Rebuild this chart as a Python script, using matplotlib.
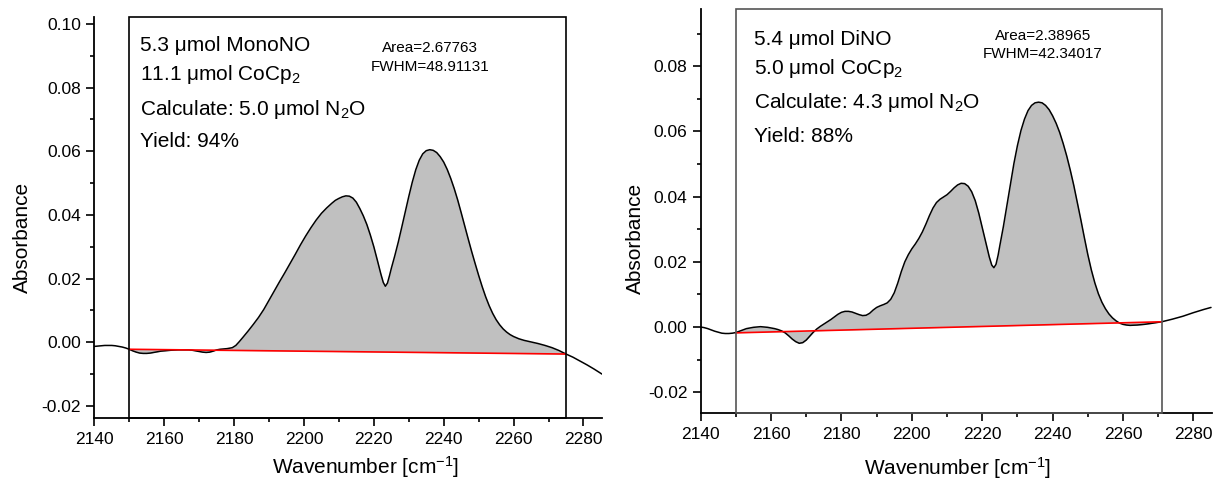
import numpy as np
import matplotlib
matplotlib.use("Agg")
import matplotlib.pyplot as plt
from matplotlib.patches import Rectangle
from matplotlib.ticker import MultipleLocator, FormatStrFormatter
import matplotlib.transforms as mtransforms

plt.rcParams["font.family"] = ["Liberation Sans", "DejaVu Sans"]
plt.rcParams["mathtext.fontset"] = "custom"
plt.rcParams["mathtext.rm"] = "Liberation Sans"
plt.rcParams["mathtext.it"] = "Liberation Sans:italic"
plt.rcParams["axes.unicode_minus"] = False

# ---- MonoNO + CoCp2 spectrum ----
wn_mono = [2140, 2141, 2142, 2143, 2144, 2145, 2146, 2147, 2148, 2149,
           2150, 2151, 2152, 2153, 2154, 2155, 2156, 2157, 2158, 2159,
           2160, 2162, 2164, 2166, 2167, 2168, 2169, 2170, 2171, 2172,
           2173, 2174, 2175, 2176, 2177, 2178, 2179, 2179.5, 2180.5, 2181.5,
           2182.5, 2184, 2185.5, 2187, 2188.5, 2190, 2191.5, 2193, 2194.5, 2196,
           2197.5, 2199, 2200.5, 2202, 2203.5, 2205, 2206.5, 2208, 2209, 2210,
           2211, 2212, 2213, 2214, 2215, 2216, 2217, 2218, 2219, 2220,
           2221, 2222, 2222.7, 2223.3, 2223.9, 2224.5, 2225, 2226, 2227, 2228,
           2229, 2230, 2231, 2232, 2233, 2234, 2235, 2236, 2237, 2238,
           2239, 2240, 2241, 2242, 2243, 2244, 2245, 2246, 2247, 2248,
           2249, 2250, 2251, 2252, 2253, 2254, 2255, 2256, 2257, 2258,
           2259, 2260, 2261.5, 2263, 2265, 2267, 2269, 2271, 2273, 2275,
           2277, 2279, 2281, 2283, 2285.3]
abs_mono = [-0.0013, -0.0012, -0.0011, -0.0010, -0.0010, -0.0010, -0.0011, -0.0013, -0.0015, -0.0018,
            -0.0022, -0.0027, -0.0031, -0.0034, -0.0035, -0.0035, -0.0034, -0.0032, -0.0030, -0.0028,
            -0.0027, -0.0025, -0.0024, -0.0024, -0.0024, -0.0025, -0.0027, -0.0029, -0.0031, -0.0032,
            -0.0031, -0.0028, -0.0024, -0.0022, -0.0021, -0.0020, -0.0018, -0.0017, -0.0010, 0.0002,
            0.0015, 0.0035, 0.0056, 0.0078, 0.0103, 0.0132, 0.0161, 0.0190, 0.0218, 0.0247,
            0.0276, 0.0306, 0.0334, 0.0360, 0.0384, 0.0405, 0.0422, 0.0437, 0.0446, 0.0452,
            0.0457, 0.0460, 0.0459, 0.0453, 0.0440, 0.0420, 0.0397, 0.0370, 0.0337, 0.0300,
            0.0258, 0.0215, 0.0188, 0.0176, 0.0186, 0.0210, 0.0232, 0.0272, 0.0315, 0.0362,
            0.0410, 0.0458, 0.0503, 0.0542, 0.0572, 0.0592, 0.0602, 0.0605, 0.0603, 0.0596,
            0.0583, 0.0566, 0.0543, 0.0515, 0.0483, 0.0447, 0.0407, 0.0366, 0.0325, 0.0285,
            0.0247, 0.0210, 0.0175, 0.0143, 0.0115, 0.0091, 0.0071, 0.0055, 0.0042, 0.0032,
            0.0024, 0.0018, 0.0011, 0.0006, 0.0001, -0.0004, -0.0010, -0.0017, -0.0026, -0.0037,
            -0.0047, -0.0059, -0.0071, -0.0084, -0.0100]
limits_mono = [2150, 2275]
base_mono = [-0.0022, -0.0037]
text_mono = ["5.3 μmol MonoNO", "11.1 μmol CoCp$_2$",
             "Calculate: 5.0 μmol N$_2$O", "Yield: 94%"]
fit_mono = ["Area=2.67763", "FWHM=48.91131"]

# ---- DiNO + CoCp2 spectrum ----
wn_dino = [2140, 2141, 2142, 2143, 2144, 2145, 2146, 2147, 2148, 2149,
           2150, 2151, 2152, 2153, 2154, 2155, 2156, 2157, 2158, 2159,
           2160, 2161, 2162, 2163, 2164, 2165, 2166, 2167, 2168, 2169,
           2170, 2171, 2172, 2173, 2174, 2175, 2176, 2177, 2178, 2179,
           2180, 2181, 2182, 2183, 2184, 2185, 2186, 2187, 2188, 2189,
           2190, 2191, 2192, 2193, 2194, 2195, 2196, 2197, 2198, 2199,
           2200, 2201, 2202, 2203, 2204, 2205, 2206, 2207, 2208, 2209,
           2210, 2211, 2212, 2213, 2214, 2215, 2216, 2217, 2218, 2219,
           2220, 2221, 2222, 2222.7, 2223.3, 2223.9, 2224.5, 2225, 2226, 2227,
           2228, 2229, 2230, 2231, 2232, 2233, 2234, 2235, 2236, 2237,
           2238, 2239, 2240, 2241, 2242, 2243, 2244, 2245, 2246, 2247,
           2248, 2249, 2250, 2251, 2252, 2253, 2254, 2255, 2256, 2257,
           2258, 2259, 2260, 2261, 2262, 2264, 2266, 2268, 2271, 2274,
           2277, 2280, 2283, 2285]
abs_dino = [0.0000, -0.0002, -0.0005, -0.0009, -0.0013, -0.0016, -0.0019, -0.0020, -0.0020, -0.0019,
            -0.0017, -0.0013, -0.0009, -0.0005, -0.0003, -0.0001, 0.0000, 0.0001, 0.0000, -0.0001,
            -0.0003, -0.0005, -0.0008, -0.0012, -0.0018, -0.0027, -0.0037, -0.0045, -0.0050, -0.0048,
            -0.0040, -0.0028, -0.0016, -0.0006, 0.0002, 0.0009, 0.0016, 0.0023, 0.0031, 0.0039,
            0.0045, 0.0048, 0.0048, 0.0046, 0.0042, 0.0038, 0.0035, 0.0036, 0.0042, 0.0052,
            0.0060, 0.0065, 0.0069, 0.0074, 0.0085, 0.0105, 0.0135, 0.0170, 0.0200, 0.0222,
            0.0240, 0.0255, 0.0272, 0.0292, 0.0316, 0.0342, 0.0365, 0.0382, 0.0392, 0.0399,
            0.0406, 0.0416, 0.0427, 0.0436, 0.0441, 0.0440, 0.0432, 0.0415, 0.0388, 0.0350,
            0.0305, 0.0260, 0.0215, 0.0190, 0.0182, 0.0192, 0.0220, 0.0250, 0.0308, 0.0372,
            0.0438, 0.0502, 0.0557, 0.0603, 0.0638, 0.0664, 0.0680, 0.0688, 0.0690, 0.0688,
            0.0680, 0.0667, 0.0648, 0.0625, 0.0597, 0.0563, 0.0525, 0.0482, 0.0435, 0.0383,
            0.0330, 0.0275, 0.0222, 0.0175, 0.0135, 0.0102, 0.0076, 0.0056, 0.0040, 0.0028,
            0.0019, 0.0012, 0.0008, 0.0006, 0.0005, 0.0006, 0.0008, 0.0011, 0.0016, 0.0024,
            0.0033, 0.0044, 0.0054, 0.0060]
limits_dino = [2150, 2271]
base_dino = [-0.0018, 0.0016]
text_dino = ["5.4 μmol DiNO", "5.0 μmol CoCp$_2$",
             "Calculate: 4.3 μmol N$_2$O", "Yield: 88%"]
fit_dino = ["Area=2.38965", "FWHM=42.34017"]

fig = plt.figure(figsize=(12.15, 4.82), dpi=100)
ax1 = fig.add_axes([0.0776, 0.1334, 0.4176, 0.8307])
ax2 = fig.add_axes([0.5767, 0.1438, 0.4206, 0.8369])


def draw_panel(ax, wn, ab, limits, base, ylim, yticks, box_color,
               lines, line_y, text_x, fit, fit_xy, ylab_xy, xlab_xy):
    wn = np.asarray(wn, float)
    ab = np.asarray(ab, float)
    m = (wn >= limits[0]) & (wn <= limits[1])
    bl = np.interp(wn[m], limits, base)
    ax.fill_between(wn[m], ab[m], bl, color="#c0c0c0", lw=0, zorder=1)
    ax.plot(wn, ab, color="black", lw=1.1, zorder=3,
            solid_joinstyle="round", solid_capstyle="round")
    ax.plot(limits, base, color="#ff0000", lw=1.2, zorder=4)

    ax.set_xlim(2140, 2285.2)
    ax.set_ylim(*ylim)
    trans = mtransforms.blended_transform_factory(ax.transData, ax.transAxes)
    ax.add_patch(Rectangle((limits[0], 0), limits[1] - limits[0], 1,
                           transform=trans, fill=False, ec=box_color, lw=1.2,
                           clip_on=False, zorder=5))

    for s in ("top", "right"):
        ax.spines[s].set_visible(False)
    for s in ("left", "bottom"):
        ax.spines[s].set_linewidth(1.3)
    ax.xaxis.set_major_locator(MultipleLocator(20))
    ax.xaxis.set_minor_locator(MultipleLocator(10))
    ax.set_yticks(yticks)
    ax.yaxis.set_minor_locator(MultipleLocator(0.01))
    ax.yaxis.set_major_formatter(FormatStrFormatter("%.2f"))
    ax.tick_params(which="major", direction="out", length=5.5, width=1.2,
                   labelsize=12.5, pad=4)
    ax.tick_params(which="minor", direction="out", length=3.2, width=1.2)
    ax.tick_params(axis="x", which="major", pad=5)

    for s, y in zip(lines, line_y):
        ax.text(text_x, y, s, transform=ax.transAxes, fontsize=15,
                ha="left", va="baseline")
    ax.text(fit_xy[0], fit_xy[1], fit[0], transform=ax.transAxes, fontsize=11,
            ha="center", va="center")
    ax.text(fit_xy[0], fit_xy[2], fit[1], transform=ax.transAxes, fontsize=11,
            ha="center", va="center")

    ax.set_ylabel("Absorbance", fontsize=15, ha="center", va="center",
                  rotation_mode="anchor")
    ax.yaxis.set_label_coords(*ylab_xy)
    ax.set_xlabel("Wavenumber [cm$^{-1}$]", fontsize=15, ha="center", va="center")
    ax.xaxis.set_label_coords(*xlab_xy)


draw_panel(ax1, wn_mono, abs_mono, limits_mono, base_mono, (-0.0237, 0.1021),
           [-0.02, 0.0, 0.02, 0.04, 0.06, 0.08, 0.10], "black",
           text_mono, [0.9166, 0.843, 0.756, 0.677], 0.0893,
           fit_mono, (0.6616, 0.9223, 0.8749), (-0.1425, 0.45), (0.5355, -0.123))

draw_panel(ax2, wn_dino, abs_dino, limits_dino, base_dino, (-0.0263, 0.0975),
           [-0.02, 0.0, 0.02, 0.04, 0.06, 0.08], "#555555",
           text_dino, [0.9115, 0.8396, 0.7546, 0.6718], 0.1035,
           fit_dino, (0.6695, 0.9346, 0.8896), (-0.1286, 0.432), (0.5025, -0.137))

fig.savefig("out.png", dpi=100)
